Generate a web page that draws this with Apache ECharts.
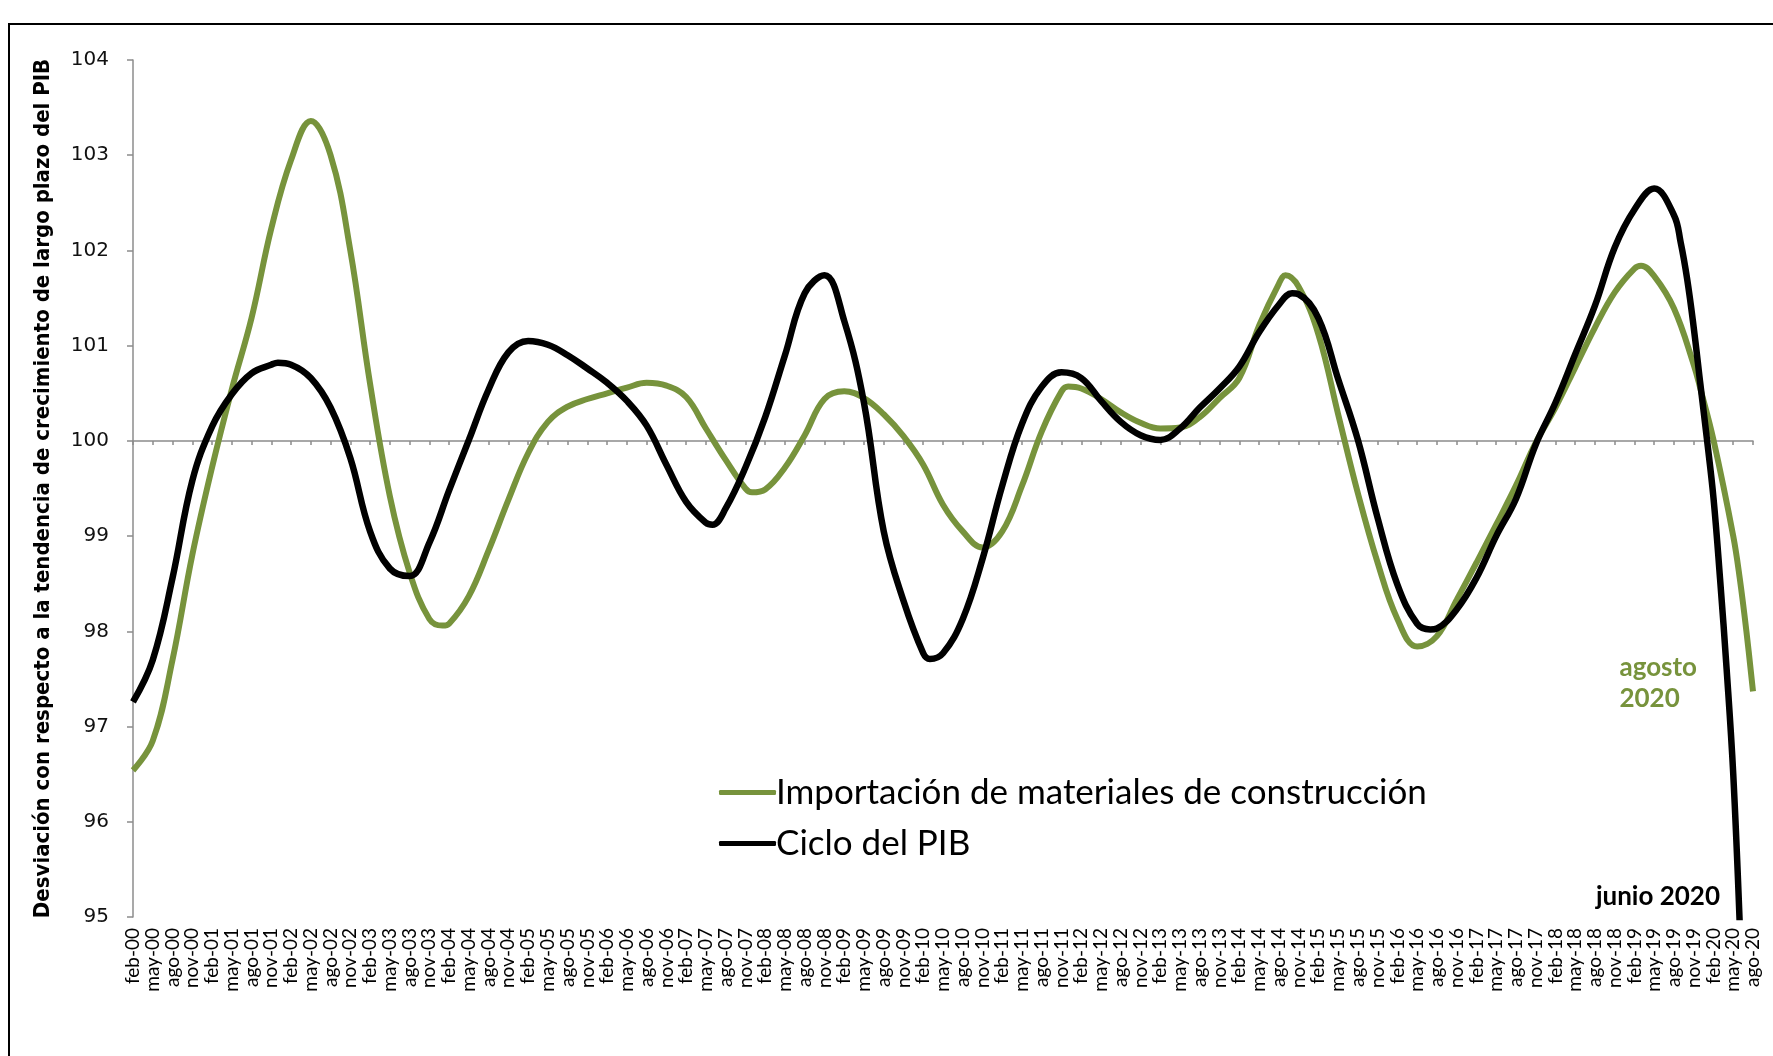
<!DOCTYPE html>
<html>
<head>
<meta charset="utf-8">
<script src="https://cdn.jsdelivr.net/npm/echarts/dist/echarts.min.js"></script>
<style>
html, body { margin: 0; padding: 0; background: #fff; }
#chart { width: 1773px; height: 1056px; }
</style>
</head>
<body>
<div id="chart"></div>
<script>
// meses feb-00 ... ago-20 (eje de categorías)
var mesesAbr = ['ene', 'feb', 'mar', 'abr', 'may', 'jun', 'jul', 'ago', 'sep', 'oct', 'nov', 'dic'];
var meses = [];
for (var a = 2000; a <= 2020; a++) {
    for (var m = 0; m < 12; m++) {
        if (a == 2000 && m < 1) continue;
        if (a == 2020 && m > 7) continue;
        meses.push(mesesAbr[m] + '-' + String(a).slice(2));
    }
}

// Importación de materiales de construcción
var importacion = [
    ['feb-00', 96.54], ['may-00', 96.85], ['ago-00', 97.70], ['nov-00', 98.80],
    ['feb-01', 99.72], ['may-01', 100.54], ['ago-01', 101.29], ['nov-01', 102.23],
    ['feb-02', 102.95], ['may-02', 103.36], ['ago-02', 103.00], ['nov-02', 102.00],
    ['feb-03', 100.60], ['may-03', 99.42], ['ago-03', 98.62], ['nov-03', 98.13],
    ['ene-04', 98.06], ['feb-04', 98.08], ['may-04', 98.37], ['ago-04', 98.85],
    ['nov-04', 99.38], ['feb-05', 99.87], ['may-05', 100.20], ['ago-05', 100.36],
    ['nov-05', 100.44], ['feb-06', 100.50], ['may-06', 100.56], ['ago-06', 100.61],
    ['nov-06', 100.58], ['feb-07', 100.46], ['may-07', 100.13], ['ago-07', 99.80],
    ['nov-07', 99.50], ['dic-07', 99.46], ['feb-08', 99.49], ['may-08', 99.72],
    ['ago-08', 100.06], ['nov-08', 100.44], ['feb-09', 100.52], ['may-09', 100.45],
    ['ago-09', 100.28], ['nov-09', 100.05], ['feb-10', 99.75], ['may-10', 99.33],
    ['ago-10', 99.05], ['nov-10', 98.88], ['feb-11', 99.05], ['may-11', 99.53],
    ['ago-11', 100.10], ['nov-11', 100.52], ['dic-11', 100.57], ['feb-12', 100.55],
    ['may-12', 100.44], ['ago-12', 100.30], ['nov-12', 100.19], ['feb-13', 100.13],
    ['may-13', 100.14], ['ago-13', 100.25], ['nov-13', 100.45], ['feb-14', 100.66],
    ['may-14', 101.21], ['ago-14', 101.65], ['sep-14', 101.74], ['nov-14', 101.62],
    ['feb-15', 101.12], ['may-15', 100.28], ['ago-15', 99.45], ['nov-15', 98.72],
    ['feb-16', 98.13], ['may-16', 97.84], ['ago-16', 97.95], ['nov-16', 98.33],
    ['feb-17', 98.72], ['may-17', 99.12], ['ago-17', 99.53], ['nov-17', 99.98],
    ['feb-18', 100.35], ['may-18', 100.77], ['ago-18', 101.19], ['nov-18', 101.56],
    ['feb-19', 101.81], ['mar-19', 101.84], ['may-19', 101.73], ['ago-19', 101.39],
    ['nov-19', 100.80], ['dic-19', 100.55], ['feb-20', 100.01], ['may-20', 99.00],
    ['jun-20', 98.55], ['jul-20', 98.00], ['ago-20', 97.37]
];

// Ciclo del PIB
var cicloPib = [
    ['feb-00', 97.26], ['may-00', 97.70], ['ago-00', 98.56], ['nov-00', 99.58],
    ['feb-01', 100.15], ['may-01', 100.49], ['ago-01', 100.71], ['nov-01', 100.80],
    ['dic-01', 100.82], ['feb-02', 100.80], ['may-02', 100.66], ['ago-02', 100.35],
    ['nov-02', 99.82], ['feb-03', 99.05], ['may-03', 98.66], ['ago-03', 98.58],
    ['nov-03', 98.93], ['feb-04', 99.48], ['may-04', 100.01], ['ago-04', 100.54],
    ['nov-04', 100.93], ['feb-05', 101.05], ['may-05', 101.01], ['ago-05', 100.90],
    ['nov-05', 100.76], ['feb-06', 100.61], ['may-06', 100.42], ['ago-06', 100.16],
    ['nov-06', 99.75], ['feb-07', 99.36], ['may-07', 99.14], ['jun-07', 99.12],
    ['ago-07', 99.29], ['nov-07', 99.72], ['feb-08', 100.25], ['may-08', 100.90],
    ['ago-08', 101.55], ['nov-08', 101.74], ['feb-09', 101.26], ['may-09', 100.40],
    ['ago-09', 99.05], ['nov-09', 98.32], ['feb-10', 97.77], ['mar-10', 97.71],
    ['may-10', 97.77], ['ago-10', 98.13], ['nov-10', 98.76], ['feb-11', 99.53],
    ['may-11', 100.18], ['ago-11', 100.57], ['nov-11', 100.72], ['feb-12', 100.66],
    ['may-12', 100.42], ['ago-12', 100.20], ['nov-12', 100.06], ['feb-13', 100.01],
    ['may-13', 100.13], ['ago-13', 100.35], ['nov-13', 100.55], ['feb-14', 100.78],
    ['may-14', 101.14], ['ago-14', 101.43], ['oct-14', 101.55], ['nov-14', 101.54],
    ['feb-15', 101.29], ['may-15', 100.65], ['ago-15', 100.01], ['nov-15', 99.19],
    ['feb-16', 98.49], ['may-16', 98.08], ['jul-16', 98.02], ['ago-16', 98.03],
    ['nov-16', 98.23], ['feb-17', 98.56], ['may-17', 99.00], ['ago-17', 99.39],
    ['nov-17', 99.96], ['feb-18', 100.40], ['may-18', 100.91], ['ago-18', 101.42],
    ['nov-18', 102.03], ['feb-19', 102.43], ['may-19', 102.65], ['ago-19', 102.37],
    ['sep-19', 102.09], ['oct-19', 101.70], ['nov-19', 101.19], ['dic-19', 100.60],
    ['ene-20', 100.02], ['feb-20', 99.40], ['mar-20', 98.55], ['abr-20', 97.60],
    ['may-20', 96.50], ['jun-20', 94.90]
];

var yTicks = { min: 95, max: 104, step: 1 };

var verde = '#77933C';
var gris = '#8c8c8c';

var chart = echarts.init(document.getElementById('chart'));
var option = {
    backgroundColor: '#fff',
    animation: false,
    grid: { left: 133, right: 20, top: 60, bottom: 139 },
    legend: {
        orient: 'vertical',
        left: 714,
        top: 770,
        itemWidth: 57,
        itemHeight: 5,
        itemGap: 16,
        icon: 'roundRect',
        textStyle: { fontFamily: 'Lato', fontSize: 35, color: '#000', padding: [0, 0, 0, -5] },
        data: ['Importación de materiales de construcción', 'Ciclo del PIB']
    },
    xAxis: [{
        type: 'category',
        data: meses,
        boundaryGap: false,
        position: 'bottom',
        axisLine: { show: false },
        axisTick: { show: false },
        axisLabel: { interval: 2, rotate: 90, fontFamily: 'Lato', fontSize: 19, color: '#000', margin: 11 }
    }, {
        // linea del 100 con sus marcas
        type: 'category',
        data: meses,
        boundaryGap: false,
        position: 'bottom',
        offset: -476,
        axisLine: { show: true, lineStyle: { color: gris, width: 1.5 } },
        axisTick: { show: true, interval: 2, length: 4, lineStyle: { color: gris, width: 1.5 } },
        axisLabel: { show: false }
    }],
    yAxis: {
        type: 'value',
        min: yTicks.min,
        max: yTicks.max,
        interval: yTicks.step,
        axisLine: { show: true, lineStyle: { color: gris, width: 1.5 } },
        axisTick: { show: true, length: 6, lineStyle: { color: gris, width: 1.5 } },
        splitLine: { show: false },
        axisLabel: { fontFamily: 'DejaVu Sans', fontSize: 20, color: '#111', margin: 24 },
        name: 'Desviación con respecto a la tendencia de crecimiento de largo plazo del PIB',
        nameLocation: 'middle',
        nameRotate: 90,
        nameGap: 79,
        nameTextStyle: { fontFamily: "'DejaVu Sans Condensed', 'Liberation Sans', sans-serif", fontWeight: 'bold', fontSize: 22, color: '#000' }
    },
    graphic: [{
        type: 'rect',
        shape: { x: 9, y: 24, width: 1800, height: 1100 },
        style: { fill: null, stroke: '#000', lineWidth: 2 },
        silent: true
    }, {
        type: 'text',
        right: 1773 - 1697,
        top: 652,
        style: { text: 'agosto\n2020', fill: verde, font: 'bold 26px Lato', align: 'right', lineHeight: 31 }
    }, {
        type: 'text',
        right: 1773 - 1720,
        top: 884,
        style: { text: 'junio 2020', fill: '#000', font: 'bold 26px Lato', align: 'right' }
    }],
    series: [{
        name: 'Importación de materiales de construcción',
        type: 'line',
        data: importacion,
        smooth: 0.4,
        symbol: 'none',
        lineStyle: { color: verde, width: 6 },
        itemStyle: { color: verde },
        z: 2
    }, {
        name: 'Ciclo del PIB',
        type: 'line',
        data: cicloPib,
        smooth: 0.4,
        symbol: 'none',
        lineStyle: { color: '#000', width: 6.5 },
        itemStyle: { color: '#000' },
        z: 3
    }]
};
chart.setOption(option);
</script>
</body>
</html>
